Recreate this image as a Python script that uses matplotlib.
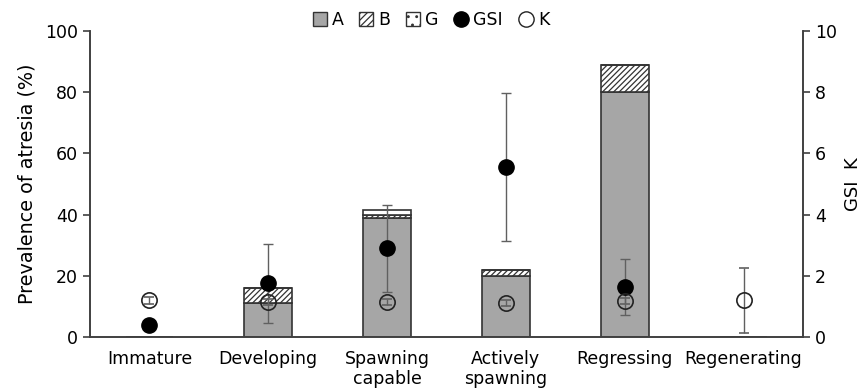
import numpy as np
import matplotlib
matplotlib.use('Agg')
import matplotlib.pyplot as plt
from matplotlib.patches import Patch
from matplotlib.lines import Line2D

# 数据
stages = ['Immature', 'Developing', 'Spawning\ncapable', 'Actively\nspawning', 'Regressing', 'Regenerating']
atresia_a = [0, 11, 39, 20, 80, 0]
atresia_b = [0, 5, 1, 2, 9, 0]
atresia_g = [0, 0, 1.5, 0, 0, 0]
gsi = [0.4, 1.75, 2.9, 5.55, 1.63, np.nan]
gsi_sd = [0.0, 1.3, 1.42, 2.42, 0.92, np.nan]
k_val = [1.2, 1.13, 1.13, 1.12, 1.17, 1.2]
k_sd = [0.12, 0.1, 0.1, 0.1, 0.1, 1.07]

plt.rcParams['font.family'] = ['DejaVu Sans']
plt.rcParams['font.size'] = 12.5
plt.rcParams['hatch.linewidth'] = 0.9

fig = plt.figure(figsize=(8.65, 3.9), dpi=100)
ax = fig.add_axes([90/865, 1-337/390, 713/865, 306/390])
ax2 = ax.twinx()

x = np.arange(len(stages))
w = 0.4
edge = '#333333'
a = np.array(atresia_a)
b = np.array(atresia_b)
g = np.array(atresia_g)
ax.bar(x, a, w, color='#a6a6a6', edgecolor=edge, linewidth=1.2, zorder=2)
ax.bar(x, b, w, bottom=a, color='white', edgecolor=edge, hatch='//////', linewidth=1.2, zorder=2)
ax.bar(x, g, w, bottom=a + b, color='white', edgecolor=edge, hatch='..', linewidth=1.2, zorder=2)

# GSI 和 K
ax2.errorbar(x, gsi, yerr=gsi_sd, fmt='o', color='black', markersize=11,
             ecolor='#606060', elinewidth=1, capsize=3.5, capthick=1, zorder=3)
ax2.errorbar(x, k_val, yerr=k_sd, fmt='o', markerfacecolor='none', markeredgecolor='#222222',
             markeredgewidth=1.2, markersize=11, ecolor='#606060', elinewidth=1,
             capsize=3.5, capthick=1, zorder=4)

ax.set_xlim(-0.5, len(stages) - 0.5)
ax.set_ylim(0, 100)
ax2.set_ylim(0, 10)
ax.set_yticks(np.arange(0, 101, 20))
ax2.set_yticks(np.arange(0, 11, 2))
ax.set_xticks(x)
ax.set_xticklabels(stages)
ax.tick_params(axis='x', length=0, pad=9)
ax.tick_params(axis='y', direction='out', length=5, color='#404040', width=1.2)
ax2.tick_params(axis='y', direction='out', length=5, color='#404040', width=1.2)
ax.set_ylabel('Prevalence of atresia (%)', fontsize=13.8, labelpad=6)
ax2.set_ylabel('GSI  K', fontsize=13, labelpad=5)

for axx in (ax, ax2):
    axx.spines['top'].set_visible(False)
    for s in ('left', 'right', 'bottom'):
        axx.spines[s].set_color('#404040')
        axx.spines[s].set_linewidth(1.2)

handles = [
    Patch(facecolor='#a6a6a6', edgecolor=edge, label='A'),
    Patch(facecolor='white', edgecolor=edge, hatch='/////', label='B'),
    Patch(facecolor='white', edgecolor=edge, hatch='..', label='G'),
    Line2D([], [], marker='o', linestyle='none', color='black', markersize=11, label='GSI'),
    Line2D([], [], marker='o', linestyle='none', markerfacecolor='white',
           markeredgecolor='#222222', markersize=11, label='K'),
]
fig.legend(handles=handles, loc='center', bbox_to_anchor=(431/865, 1-20/390), ncol=5,
           frameon=False, handlelength=0.8, handleheight=0.8, handletextpad=0.3,
           columnspacing=0.9, borderaxespad=0)

fig.savefig('out.png', dpi=100)
